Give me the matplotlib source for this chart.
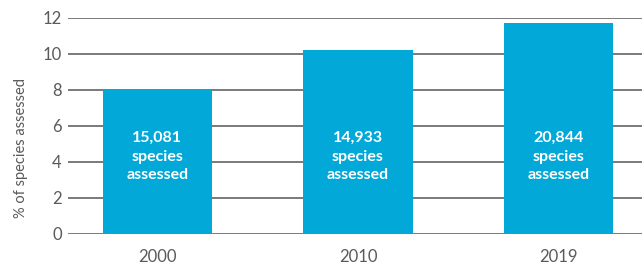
import matplotlib
matplotlib.use("Agg")
import matplotlib.pyplot as plt

years = ["2000", "2010", "2019"]
percent = [8.0, 10.2, 11.75]
species = ["15,081", "14,933", "20,844"]
yticks = [0, 2, 4, 6, 8, 10, 12]

plt.rcParams['font.family'] = ['Lato', 'DejaVu Sans']
fig = plt.figure(figsize=(6.42, 2.66), dpi=100)
ax = fig.add_axes([68/642, 1-234/266, 1-68/642, 216/266])

x = list(range(len(years)))
ax.bar(x, percent, width=0.545, color="#02A8D7", zorder=3)
for xi, s in zip(x, species):
    ax.text(xi, 4.3, f"{s}\nspecies\nassessed", ha="center", va="center",
            color="white", fontsize=11.5, fontweight="bold", linespacing=1.4, zorder=4)

ax.set_xlim(-0.446, 2.416)
ax.set_ylim(0, 12)
ax.set_yticks(yticks)
ax.set_xticks(x)
ax.set_xticklabels(years)
ax.yaxis.grid(True, color="#7a7a7a", linewidth=1.4, zorder=0)
ax.set_axisbelow(True)
for sp in ax.spines.values():
    sp.set_visible(False)
ax.tick_params(axis="both", length=0, labelsize=12, colors="#5a5a5a")
ax.tick_params(axis="y", pad=4.5)
ax.tick_params(axis="x", pad=11)
ax.set_ylabel("% of species assessed", fontsize=10.5, color="#5a5a5a")
ax.yaxis.set_label_coords(-(68-28)/574, (234-148)/216)
fig.savefig("out.png", dpi=100)
